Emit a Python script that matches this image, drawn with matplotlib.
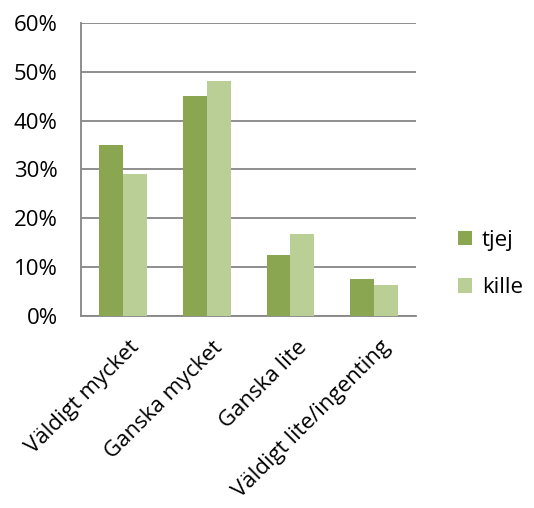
import matplotlib
matplotlib.use("Agg")
import matplotlib.pyplot as plt
import numpy as np
from matplotlib.ticker import PercentFormatter
import matplotlib.transforms as mtransforms

plt.rcParams['font.family'] = ['Open Sans', 'DejaVu Sans']

categories = ["Väldigt mycket", "Ganska mycket", "Ganska lite", "Väldigt lite/ingenting"]
tjej = [35, 45, 12.5, 7.5]
kille = [29, 48, 16.7, 6.3]
series_names = ["tjej", "kille"]

fig = plt.figure(figsize=(5.34, 5.08), dpi=100)
ax = fig.add_axes([0.152, 0.378, 0.627, 0.577])

x = np.arange(len(categories))
w = 0.285
ax.bar(x - w / 2, tjej, w, color="#8AA651", label=series_names[0], zorder=3)
ax.bar(x + w / 2, kille, w, color="#BACF96", label=series_names[1], zorder=3)

ax.set_xlim(-0.5, len(categories) - 0.5)
ax.set_ylim(0, 60)
ax.set_yticks(range(0, 61, 10))
ax.yaxis.set_major_formatter(PercentFormatter(decimals=0))
ax.grid(axis="y", color="#868686", linewidth=1.3, zorder=0)

for s in ["top", "right"]:
    ax.spines[s].set_visible(False)
for s in ["left", "bottom"]:
    ax.spines[s].set_color("#868686")
    ax.spines[s].set_linewidth(1.3)

ax.tick_params(axis="y", length=0, labelsize=16, pad=17)
ax.tick_params(axis="x", length=0, labelsize=16, pad=15)
ax.set_xticks(x)
ax.set_xticklabels(categories, rotation=45, ha="right", rotation_mode="anchor")
shift = mtransforms.ScaledTranslation(4 / 72, 0, fig.dpi_scale_trans)
for lab in ax.get_xticklabels():
    lab.set_verticalalignment("top")
    lab.set_transform(lab.get_transform() + shift)

ax.legend(loc="center left", bbox_to_anchor=(1.125, 0.177), frameon=False,
          fontsize=16, handlelength=0.63, handleheight=0.63, labelspacing=1.2,
          handletextpad=0.45, borderpad=0, borderaxespad=0)

fig.savefig("out.png", dpi=100)
